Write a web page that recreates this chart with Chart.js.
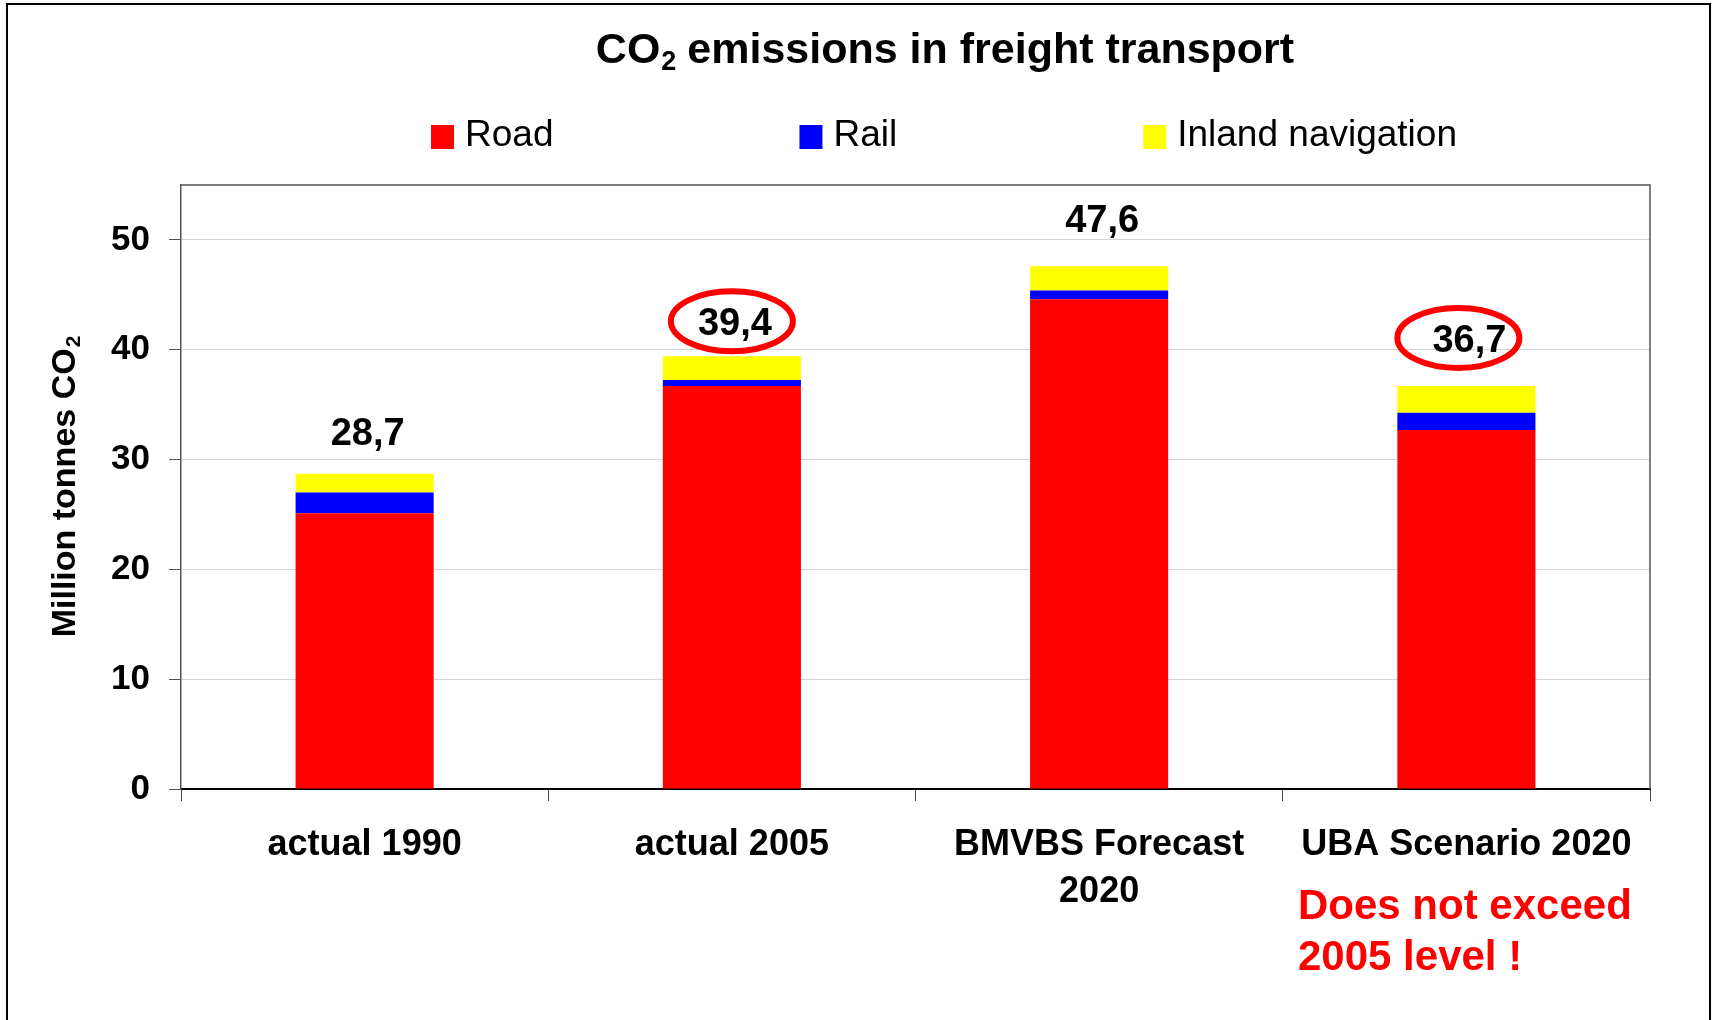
<!DOCTYPE html>
<html><head><meta charset="utf-8">
<script src="https://cdn.jsdelivr.net/npm/chart.js@4/dist/chart.umd.min.js"></script>
<style>html,body{margin:0;padding:0;background:#fff;}canvas{display:block;}</style>
</head><body>
<canvas id="c" width="1716" height="1020"></canvas>
<script>
// ---- data ----
const categories = [['actual 1990'], ['actual 2005'], ['BMVBS Forecast', '2020'], ['UBA Scenario 2020']];
const seriesNames = ['Road', 'Rail', 'Inland navigation'];
const road   = [25.1, 36.7, 44.6, 32.7];
const rail   = [1.9, 0.55, 0.8, 1.55];
const inland = [1.7, 2.15, 2.2, 2.45];
const totalLabels = ['28,7', '39,4', '47,6', '36,7'];
const highlighted = [false, true, false, true];
const yTicks = [0, 10, 20, 30, 40, 50];
const yMax = 55;
const titleParts = ['CO', '2', ' emissions in freight transport'];
const yTitleParts = ['Million tonnes CO', '2'];
const noteLines = ['Does not exceed', '2005 level !'];

// ---- styles ----
const FONT = "'Liberation Sans', Arial, sans-serif";
const colors = ['#ff0000', '#0000ff', '#ffff00'];
const labelGap = [29, 21, 34, 34];
const ellipseDx = [0, 0, 0, -8];

const decor = {
  id: 'decor',
  afterDraw(chart) {
    const ctx = chart.ctx, ca = chart.chartArea;
    ctx.save();
    // outer frame
    ctx.strokeStyle = '#000'; ctx.lineWidth = 2;
    ctx.beginPath();
    ctx.moveTo(7, 1020); ctx.lineTo(7, 4); ctx.lineTo(1710, 4); ctx.lineTo(1710, 1020);
    ctx.stroke();
    // plot frame top/right
    ctx.strokeStyle = '#555'; ctx.lineWidth = 1.5;
    ctx.beginPath();
    ctx.moveTo(ca.left, ca.top); ctx.lineTo(ca.right, ca.top); ctx.lineTo(ca.right, ca.bottom);
    ctx.stroke();

    // title
    ctx.fillStyle = '#000'; ctx.textBaseline = 'alphabetic'; ctx.textAlign = 'left';
    const big = 'bold 43px ' + FONT, sub = 'bold 27px ' + FONT;
    ctx.font = big; const w0 = ctx.measureText(titleParts[0]).width;
    ctx.font = sub; const w1 = ctx.measureText(titleParts[1]).width;
    ctx.font = big; const w2 = ctx.measureText(titleParts[2]).width;
    let tx = 945 - (w0 + w1 + w2) / 2, ty = 63;
    ctx.font = big; ctx.fillText(titleParts[0], tx, ty);
    ctx.font = sub; ctx.fillText(titleParts[1], tx + w0 + 1, ty + 7);
    ctx.font = big; ctx.fillText(titleParts[2], tx + w0 + w1, ty);

    // legend
    ctx.font = '37px ' + FONT;
    const gap = 246, boxW = 23, boxH = 24, boxPad = 11;
    const items = chart.data.datasets.map(d => ({ label: d.label, color: d.backgroundColor, w: boxW + boxPad + ctx.measureText(d.label).width }));
    const total = items.reduce((s, it) => s + it.w, 0) + gap * (items.length - 1);
    let lx = 944 - total / 2;
    items.forEach(it => {
      ctx.fillStyle = it.color; ctx.fillRect(lx, 125, boxW, boxH);
      ctx.fillStyle = '#000'; ctx.fillText(it.label, lx + boxW + boxPad, 146);
      lx += it.w + gap;
    });

    // total labels + ellipses
    const meta = chart.getDatasetMeta(chart.data.datasets.length - 1);
    ctx.font = 'bold 38px ' + FONT; ctx.textAlign = 'center';
    meta.data.forEach((bar, i) => {
      const by = bar.y - labelGap[i];
      ctx.fillStyle = '#000';
      ctx.fillText(totalLabels[i], bar.x + 3, by);
      if (highlighted[i]) {
        ctx.strokeStyle = '#ff0000'; ctx.lineWidth = 6;
        ctx.beginPath();
        ctx.ellipse(bar.x + ellipseDx[i], by - 14, 61, 30, 0, 0, Math.PI * 2);
        ctx.stroke();
      }
    });

    // note
    ctx.fillStyle = '#ff0000'; ctx.textAlign = 'left';
    ctx.font = 'bold 42px ' + FONT;
    ctx.fillText(noteLines[0], 1298, 919);
    ctx.fillText(noteLines[1], 1298, 970);

    // y-axis title
    ctx.fillStyle = '#000';
    ctx.translate(66, (ca.top + ca.bottom) / 2);
    ctx.rotate(-Math.PI / 2);
    const yb = 'bold 34px ' + FONT, ys = 'bold 21px ' + FONT;
    ctx.font = yb; const a = ctx.measureText(yTitleParts[0]).width;
    ctx.font = ys; const b = ctx.measureText(yTitleParts[1]).width;
    ctx.textBaseline = 'middle';
    let sx = -(a + b) / 2;
    ctx.font = yb; ctx.fillText(yTitleParts[0], sx, 0);
    ctx.font = ys; ctx.fillText(yTitleParts[1], sx + a + 1, 8);
    ctx.restore();
  }
};

const series = [road, rail, inland];
new Chart(document.getElementById('c'), {
  type: 'bar',
  data: {
    labels: categories,
    datasets: series.map((vals, k) => ({
      label: seriesNames[k],
      data: vals,
      backgroundColor: colors[k],
      borderWidth: 0,
      barPercentage: 0.376,
      categoryPercentage: 1
    }))
  },
  options: {
    responsive: false,
    animation: false,
    devicePixelRatio: 1,
    layout: { padding: { top: 185, right: 66, left: 0, bottom: 0 } },
    plugins: { legend: { display: false }, title: { display: false }, tooltip: { enabled: false } },
    scales: {
      x: {
        stacked: true,
        grid: { offset: true, drawOnChartArea: false, drawTicks: true, tickLength: 12, color: '#444', lineWidth: 1 },
        border: { display: true, color: '#000', width: 2 },
        ticks: { font: { family: FONT, size: 36, weight: 'bold', lineHeight: 1.32 }, color: '#000', padding: 20, maxRotation: 0, autoSkip: false },
        afterFit(s) { s.height = 231; }
      },
      y: {
        stacked: true,
        min: 0, max: yMax,
        grid: { color: '#d4d4d4', lineWidth: 1, tickColor: '#555', tickLength: 12 },
        border: { display: true, color: '#555', width: 1.5 },
        ticks: { stepSize: 10, font: { family: FONT, size: 35, weight: 'bold' }, color: '#000', padding: 19 },
        afterBuildTicks(s) { s.ticks = yTicks.map(v => ({ value: v })); },
        afterFit(s) { s.width = 181; }
      }
    }
  },
  plugins: [decor]
});
</script>
</body></html>
